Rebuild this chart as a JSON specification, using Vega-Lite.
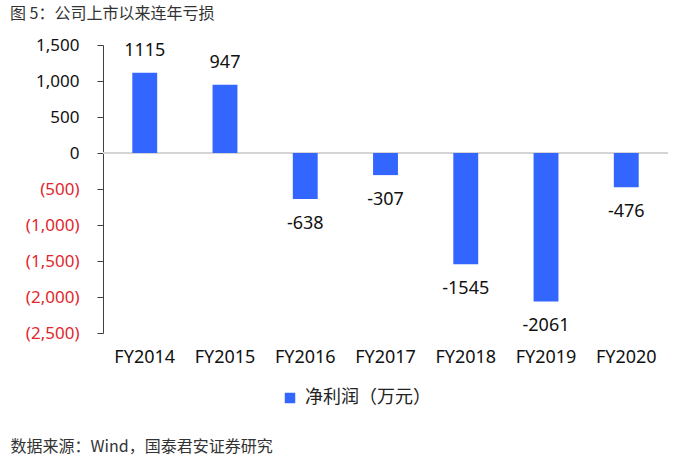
{
  "$schema": "https://vega.github.io/schema/vega-lite/v6.json",
  "width": 565,
  "height": 288,
  "autosize": {"type": "none"},
  "padding": {"left": 103, "top": 45, "right": 21, "bottom": 129},
  "background": "white",
  "config": {
    "view": {"stroke": null},
    "font": "Noto Sans CJK SC"
  },
  "title": {
    "text": "图 5：公司上市以来连年亏损",
    "anchor": "start",
    "frame": "group",
    "dx": -93,
    "offset": 14,
    "fontSize": 16,
    "fontWeight": "normal",
    "color": "#333333",
    "font": "Noto Sans CJK SC"
  },
  "data": {
    "values": [
      {"year": "FY2014", "value": 1115},
      {"year": "FY2015", "value": 947},
      {"year": "FY2016", "value": -638},
      {"year": "FY2017", "value": -307},
      {"year": "FY2018", "value": -1545},
      {"year": "FY2019", "value": -2061},
      {"year": "FY2020", "value": -476}
    ]
  },
  "encoding": {
    "x": {
      "field": "year",
      "type": "nominal",
      "sort": null,
      "scale": {"paddingInner": 0.69, "paddingOuter": 0.365},
      "axis": {
        "title": "数据来源：Wind，国泰君安证券研究",
        "titleX": -93,
        "titleY": 113,
        "titleAlign": "left",
        "titleAnchor": "start",
        "titleBaseline": "middle",
        "titleFontSize": 16,
        "titleFontWeight": "normal",
        "titleColor": "#333333",
        "titleFont": "Noto Sans CJK SC",
        "labelAngle": 0,
        "domain": false,
        "ticks": false,
        "labelPadding": 15,
        "labelFontSize": 18,
        "labelFont": "Noto Sans",
        "labelColor": "#111111"
      }
    },
    "y": {
      "field": "value",
      "type": "quantitative",
      "scale": {"domain": [-2500, 1500], "nice": false, "zero": true},
      "axis": {
        "title": null,
        "values": [1500, 1000, 500, 0, -500, -1000, -1500, -2000, -2500],
        "labelOverlap": false,
        "labelBound": false,
        "grid": false,
        "domainColor": "#404040",
        "tickColor": "#404040",
        "tickSize": 6,
        "labelPadding": 18,
        "labelFontSize": 17,
        "labelFont": "Noto Sans",
        "labelExpr": "datum.value < 0 ? '(' + format(-datum.value, ',') + ')' : format(datum.value, ',')",
        "labelColor": {"condition": {"test": "datum.value < 0", "value": "#e0282e"}, "value": "#111111"}
      }
    }
  },
  "layer": [
    {
      "mark": {"type": "rule", "color": "#d4d4d4", "strokeWidth": 1},
      "encoding": {"x": null, "y": {"datum": 0, "type": "quantitative"}}
    },
    {
      "mark": {"type": "bar", "strokeWidth": 0},
      "encoding": {
        "color": {
          "datum": "净利润（万元）",
          "type": "nominal",
          "scale": {"range": ["#3366ff"]},
          "legend": {
            "title": null,
            "orient": "none",
            "legendX": 178,
            "legendY": 344,
            "symbolType": "square",
            "symbolSize": 110,
            "labelFontSize": 18,
            "labelFont": "Noto Sans CJK SC",
            "labelColor": "#222222",
            "labelOffset": 6
          }
        }
      }
    },
    {
      "transform": [{"filter": "datum.value >= 0"}],
      "mark": {"type": "text", "baseline": "bottom", "dy": -13, "fontSize": 18, "font": "Noto Sans", "color": "#111111"},
      "encoding": {
        "text": {"field": "value", "type": "nominal"}
      }
    },
    {
      "transform": [{"filter": "datum.value < 0"}],
      "mark": {"type": "text", "baseline": "top", "dy": 16, "fontSize": 18, "font": "Noto Sans", "color": "#111111"},
      "encoding": {
        "text": {"field": "value", "type": "nominal"}
      }
    }
  ]
}
